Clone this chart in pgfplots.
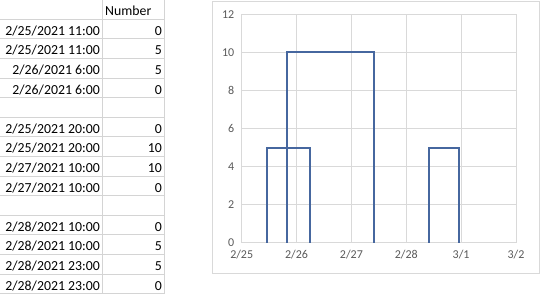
\documentclass[border=0pt]{standalone}
\usepackage{pgfplots}
\pgfplotsset{compat=1.18}
\usepackage{fontspec}
\setmainfont{Carlito}
\definecolor{gridc}{HTML}{D9D9D9}
\definecolor{cellc}{HTML}{D4D4D4}
\definecolor{tickc}{HTML}{595959}
\definecolor{linec}{HTML}{46679F}
\begin{document}
\begin{tikzpicture}[x=1pt,y=1pt]
\useasboundingbox (0,0) rectangle (540,294);
% spreadsheet grid
\foreach \k in {0,...,14} {
  \draw[cellc, line width=0.8pt] (0,{294-19.3-\k*19.6}) -- (165,{294-19.3-\k*19.6});
}
\draw[cellc, line width=0.8pt] (102.3,0) -- (102.3,294);
\draw[cellc, line width=0.8pt] (164.7,0) -- (164.7,294);
\node[anchor=base west, inner sep=0pt, font=\fontsize{13.8}{16}\selectfont] at (105,{294-16}) {Number};
\foreach \k/\d/\v in {1/2\slash 25\slash 2021 11:00/0, 2/2\slash 25\slash 2021 11:00/5, 3/2\slash 26\slash 2021 6:00/5, 4/2\slash 26\slash 2021 6:00/0,
  6/2\slash 25\slash 2021 20:00/0, 7/2\slash 25\slash 2021 20:00/10, 8/2\slash 27\slash 2021 10:00/10, 9/2\slash 27\slash 2021 10:00/0,
  11/2\slash 28\slash 2021 10:00/0, 12/2\slash 28\slash 2021 10:00/5, 13/2\slash 28\slash 2021 23:00/5, 14/2\slash 28\slash 2021 23:00/0} {
  \node[anchor=base east, inner sep=0pt, font=\fontsize{13.8}{16}\selectfont] at (100,{294-19.3-(\k-1)*19.6-16}) {\d};
  \node[anchor=base east, inner sep=0pt, font=\fontsize{13.8}{16}\selectfont] at (162,{294-19.3-(\k-1)*19.6-16}) {\v};
}
% chart border
\draw[gridc, line width=0.8pt] (212,21) rectangle (539,293);
\begin{axis}[
  at={(241.7pt,51.3pt)}, anchor=south west,
  scale only axis, width=274.3pt, height=228.4pt,
  xmin=0, xmax=5, ymin=0, ymax=12,
  xtick={0,1,2,3,4,5},
  xticklabels={2/25,2/26,2/27,2/28,3/1,3/2},
  ytick={0,2,4,6,8,10,12},
  grid=major,
  major grid style={gridc, line width=0.8pt},
  axis line style={draw=none},
  tick style={draw=none},
  ticklabel style={font=\fontsize{12}{14}\selectfont, text=tickc},
  yticklabel style={xshift=-4pt},
  xticklabel style={yshift=-4pt},
  /pgf/number format/assume math mode=true,
  clip=false,
]
\draw[gridc, line width=0.8pt] (axis cs:0,0) -- (axis cs:5,0);
\addplot[linec, line width=2pt, line join=miter, mark=none, unbounded coords=jump] table[row sep=\\] {
x y\\
0.4583 0\\ 0.4583 5\\ 1.25 5\\ 1.25 0\\
nan nan\\
0.8333 0\\ 0.8333 10\\ 2.4167 10\\ 2.4167 0\\
nan nan\\
3.4167 0\\ 3.4167 5\\ 3.9583 5\\ 3.9583 0\\
};
\end{axis}
\end{tikzpicture}
\end{document}
